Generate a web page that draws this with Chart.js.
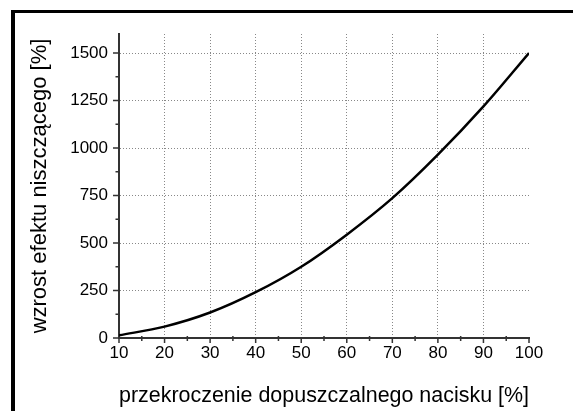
<!DOCTYPE html>
<html>
<head>
<meta charset="utf-8">
<script src="https://cdn.jsdelivr.net/npm/chart.js@4"></script>
<style>
  html,body{margin:0;padding:0;background:#fff;}
  #wrap{position:relative;width:573px;height:411px;}
</style>
</head>
<body>
<div id="wrap"><canvas id="chart" width="573" height="411"></canvas></div>
<script>
// dane
const przekroczenie=[10,20,30,40,50,60,70,80,90,100];
const wzrost=[14,60,134,241,375,544,736,965,1219,1500];
const xTicks=[10,20,30,40,50,60,70,80,90,100];
const yTicks=[0,250,500,750,1000,1250,1500];
const xMinor=[15,25,35,45,55,65,75,85,95];
const yMinor=[125,375,625,875,1125,1375];

const FONT='"Liberation Sans", Arial, sans-serif';

// ramka + kreski podziałki (rysowane przez skale)
const frameAndTicks={
  id:'frameAndTicks',
  beforeDraw(chart){
    const c=chart.ctx;
    c.save();
    c.fillStyle='#fff';
    c.fillRect(0,0,chart.width,chart.height);
    c.fillStyle='#000';
    c.fillRect(11,10,4,chart.height-10);
    c.fillRect(11,10,chart.width-11,3);
    c.restore();
  },
  afterDraw(chart){
    const c=chart.ctx, x=chart.scales.x, y=chart.scales.y;
    const ax=x.getPixelForValue(10), ay=y.getPixelForValue(0);
    c.save();
    c.strokeStyle='#333';
    c.lineWidth=1.5;
    c.beginPath();
    yTicks.forEach(v=>{const p=y.getPixelForValue(v);c.moveTo(ax-6,p);c.lineTo(ax,p);});
    yMinor.forEach(v=>{const p=y.getPixelForValue(v);c.moveTo(ax-3.5,p);c.lineTo(ax,p);});
    xTicks.forEach(v=>{const p=x.getPixelForValue(v);c.moveTo(p,ay);c.lineTo(p,ay+5);});
    xMinor.forEach(v=>{const p=x.getPixelForValue(v);c.moveTo(p,ay-2);c.lineTo(p,ay+3);});
    c.stroke();
    c.restore();
  }
};

new Chart(document.getElementById('chart'),{
  type:'line',
  data:{
    datasets:[{
      data:przekroczenie.map((v,i)=>({x:v,y:wzrost[i]})),
      borderColor:'#000',
      borderWidth:2.5,
      pointRadius:0,
      cubicInterpolationMode:'monotone',
      fill:false
    }]
  },
  options:{
    responsive:false,
    animation:false,
    layout:{padding:{left:0,top:34,right:44,bottom:0}},
    plugins:{legend:{display:false},tooltip:{enabled:false}},
    scales:{
      x:{
        type:'linear',min:10,max:100,
        afterBuildTicks:s=>{s.ticks=xTicks.map(v=>({value:v}));},
        afterFit:s=>{s.height=73;},
        ticks:{font:{family:FONT,size:17},color:'#000',padding:5,maxRotation:0,autoSkip:false,
          callback:v=>String(v)},
        grid:{drawTicks:false,lineWidth:1,color:c=>c.tick&&c.tick.value===100?'rgba(0,0,0,0)':'#888'},
        border:{display:true,color:'#333',width:2,dash:[1,2]},
        title:{display:true,text:'przekroczenie dopuszczalnego nacisku [%]',color:'#000',
          font:{family:FONT,size:21.5,lineHeight:1.2},padding:{top:0,bottom:2}}
      },
      y:{
        min:0,max:1600,
        afterBuildTicks:s=>{s.ticks=yTicks.map(v=>({value:v}));},
        afterFit:s=>{s.width=119;},
        ticks:{font:{family:FONT,size:17},color:'#000',padding:11,autoSkip:false,
          callback:v=>String(v)},
        grid:{drawTicks:false,lineWidth:1,color:'#888'},
        border:{display:true,color:'#333',width:2,dash:[1,2]},
        title:{display:true,text:'wzrost efektu niszczącego [%]',color:'#000',
          font:{family:FONT,size:22,lineHeight:1.2},padding:{top:27,bottom:0}}
      }
    }
  },
  plugins:[frameAndTicks]
});
</script>
</body>
</html>
